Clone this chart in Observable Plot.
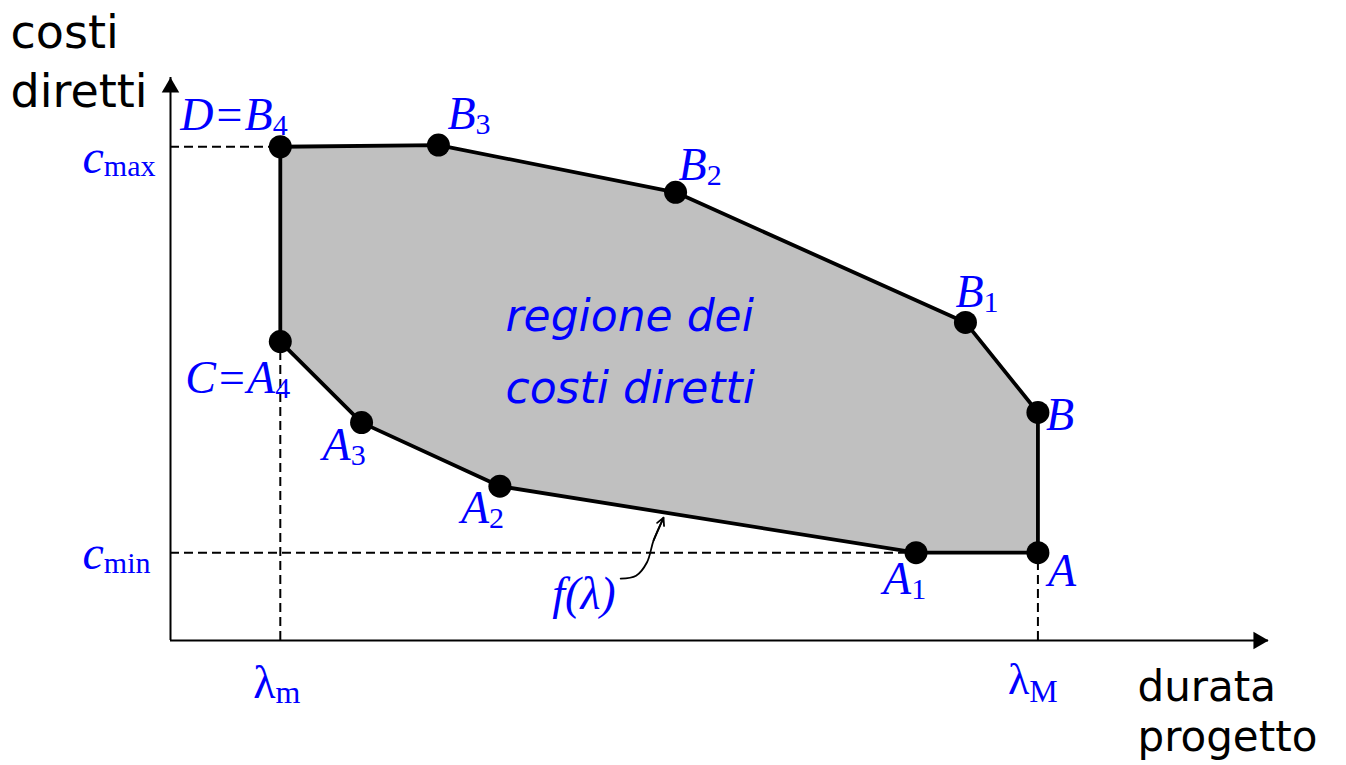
<!DOCTYPE html>
<html><head><meta charset="utf-8">
<script src="https://cdn.jsdelivr.net/npm/d3@7"></script>
<script src="https://cdn.jsdelivr.net/npm/@observablehq/plot@0.6"></script>
<style>body{margin:0;background:#fff}</style>
</head><body><div id="chart"></div>
<script>
// ---- data (abstract units: duration 0..100, cost 0..100) ----
const pointNames = ["D", "B3", "B2", "B1", "B", "A", "A1", "A2", "A3", "C"];
const pointLabels = ["D=B_4", "B_3", "B_2", "B_1", "B", "A", "A_1", "A_2", "A_3", "C=A_4"];
const durations = [10, 24.4, 46.0, 72.4, 79, 79, 67.9, 30.0, 17.4, 10];
const costs = [87.7, 88.0, 79.6, 56.5, 40.5, 15.6, 15.6, 27.4, 38.7, 53.1];
const lambdaMin = 10, lambdaMax = 79, cMin = 15.6, cMax = 87.7;
const curveX = [41.0, 42.4, 43.4, 44.0, 44.9];
const curveY = [11.0, 11.5, 13.9, 17.8, 21.8];
const axisTitlesY = ["costi", "diretti"];
const axisTitlesX = ["durata", "progetto"];
const regionText = ["regione dei", "costi diretti"];

// ---- rendering ----
const idx = d3.range(pointNames.length);
const ring = [...idx, 0];
const blue = "#0000ff";
const serif = "Liberation Serif, Times New Roman, serif";
const sans = "DejaVu Sans, sans-serif";
const labelOffsets = {D:[-100,-17], B3:[9,-16], B2:[3,-12], B1:[-10,-15], B:[8,18], A:[10,33], A1:[-33,41], A2:[-39,37], A3:[-39,37], C:[-95,51]};
const subStyle = {max:[30,3], min:[30,4], m:[32,5], M:[32,8], digit:[30,5]};
const dash = "9,5";

const marks = [
  // dashed guide lines
  Plot.ruleY([cMax], {x1: 0, x2: lambdaMin, stroke: "black", strokeWidth: 2, strokeDasharray: dash}),
  Plot.ruleY([cMin], {x1: 0, x2: durations[6], stroke: "black", strokeWidth: 2, strokeDasharray: dash}),
  Plot.ruleX([lambdaMin], {y1: 0, y2: costs[9], stroke: "black", strokeWidth: 2, strokeDasharray: dash}),
  Plot.ruleX([lambdaMax], {y1: 0, y2: cMin, stroke: "black", strokeWidth: 2, strokeDasharray: dash}),
  // region polygon
  Plot.line(ring, {x: i => durations[i], y: i => costs[i], fill: "#c0c0c0", stroke: "black", strokeWidth: 3.8, strokeLinejoin: "miter"}),
  // axes
  Plot.ruleX([0], {y1: 0, y2: 100, stroke: "black", strokeWidth: 2}),
  Plot.ruleY([0], {x1: 0, x2: 100, stroke: "black", strokeWidth: 2}),
  Plot.dot([0], {x: () => 0, y: () => 100, symbol: "triangle", r: 6.5, fill: "black", stroke: "none", dy: 10}),
  Plot.dot([0], {x: () => 100, y: () => 0, symbol: "triangle", r: 6.5, fill: "black", stroke: "none", rotate: 90, dx: -10}),
  // vertices
  Plot.dot(idx, {x: i => durations[i], y: i => costs[i], r: 11.5, fill: "black", stroke: "none"}),
  // f(lambda) pointer
  Plot.line(d3.range(curveX.length), {x: i => curveX[i], y: i => curveY[i], curve: "catmull-rom", stroke: "black", strokeWidth: 1.8}),
  Plot.arrow([0], {x1: () => curveX[3], y1: () => curveY[3], x2: () => curveX[4], y2: () => curveY[4], headLength: 20, headAngle: 55, stroke: "black", strokeWidth: 1.8}),
  Plot.text([0], {x: () => curveX[0], y: () => curveY[0], text: () => "f(λ)", textAnchor: "end", lineAnchor: "bottom", dx: -5, dy: 30, fontFamily: serif, fontStyle: "italic", fontSize: 46, fill: blue}),
  // vertex labels
  ...idx.map(i => Plot.text([i], {x: j => durations[j], y: j => costs[j], text: j => pointLabels[j], textAnchor: "start", lineAnchor: "bottom", dx: labelOffsets[pointNames[i]][0], dy: labelOffsets[pointNames[i]][1], fontFamily: serif, fontStyle: "italic", fontSize: 46, fill: blue})),
  // cost ticks
  Plot.text([cMax], {x: () => 0, y: d => d, text: () => "c_max", textAnchor: "end", lineAnchor: "bottom", dx: -15, dy: 26, fontFamily: serif, fontStyle: "italic", fontSize: 48, fill: blue}),
  Plot.text([cMin], {x: () => 0, y: d => d, text: () => "c_min", textAnchor: "end", lineAnchor: "bottom", dx: -20, dy: 16, fontFamily: serif, fontStyle: "italic", fontSize: 48, fill: blue}),
  // duration ticks
  Plot.text([lambdaMin], {x: d => d, y: () => 0, text: () => "λ_m", textAnchor: "start", lineAnchor: "bottom", dx: -27, dy: 57, fontFamily: serif, fontSize: 46, fill: blue}),
  Plot.text([lambdaMax], {x: d => d, y: () => 0, text: () => "λ_M", textAnchor: "start", lineAnchor: "bottom", dx: -30, dy: 53, fontFamily: serif, fontSize: 44, fill: blue}),
  // region text
  Plot.text([regionText[0]], {frameAnchor: "top-left", text: d => d, textAnchor: "start", lineAnchor: "bottom", dx: 505, dy: 330, fontFamily: sans, fontStyle: "italic", fontSize: 44, fill: blue}),
  Plot.text([regionText[1]], {frameAnchor: "top-left", text: d => d, textAnchor: "start", lineAnchor: "bottom", dx: 505, dy: 402, fontFamily: sans, fontStyle: "italic", fontSize: 44, fill: blue}),
  // axis titles
  Plot.text([axisTitlesY[0]], {frameAnchor: "top-left", text: d => d, textAnchor: "start", lineAnchor: "bottom", dx: 10, dy: 47, fontFamily: sans, fontSize: 46, fill: "black"}),
  Plot.text([axisTitlesY[1]], {frameAnchor: "top-left", text: d => d, textAnchor: "start", lineAnchor: "bottom", dx: 10, dy: 106, fontFamily: sans, fontSize: 46, fill: "black"}),
  Plot.text([axisTitlesX[0]], {frameAnchor: "top-left", text: d => d, textAnchor: "start", lineAnchor: "bottom", dx: 1137, dy: 700, fontFamily: sans, fontSize: 42, fill: "black"}),
  Plot.text([axisTitlesX[1]], {frameAnchor: "top-left", text: d => d, textAnchor: "start", lineAnchor: "bottom", dx: 1137, dy: 750, fontFamily: sans, fontSize: 42, fill: "black"})
];

const svg = Plot.plot({
  width: 1346,
  height: 765,
  margin: 0,
  x: {domain: [0, 100], range: [170, 1268], axis: null},
  y: {domain: [0, 100], range: [640, 77], axis: null},
  style: {background: "white", overflow: "visible"},
  marks
});

// subscripts
svg.querySelectorAll("text").forEach(t => {
  const s = t.textContent;
  const k = s.indexOf("_");
  if (k < 0) return;
  const main = s.slice(0, k), sub = s.slice(k + 1);
  t.textContent = main;
  const ts = document.createElementNS("http://www.w3.org/2000/svg", "tspan");
  ts.textContent = sub;
  const [size, shift] = subStyle[sub] ?? subStyle.digit;
  ts.setAttribute("font-size", size);
  ts.setAttribute("font-style", "normal");
  ts.setAttribute("dy", shift);
  t.appendChild(ts);
});

document.getElementById("chart").appendChild(svg);
</script></body></html>
